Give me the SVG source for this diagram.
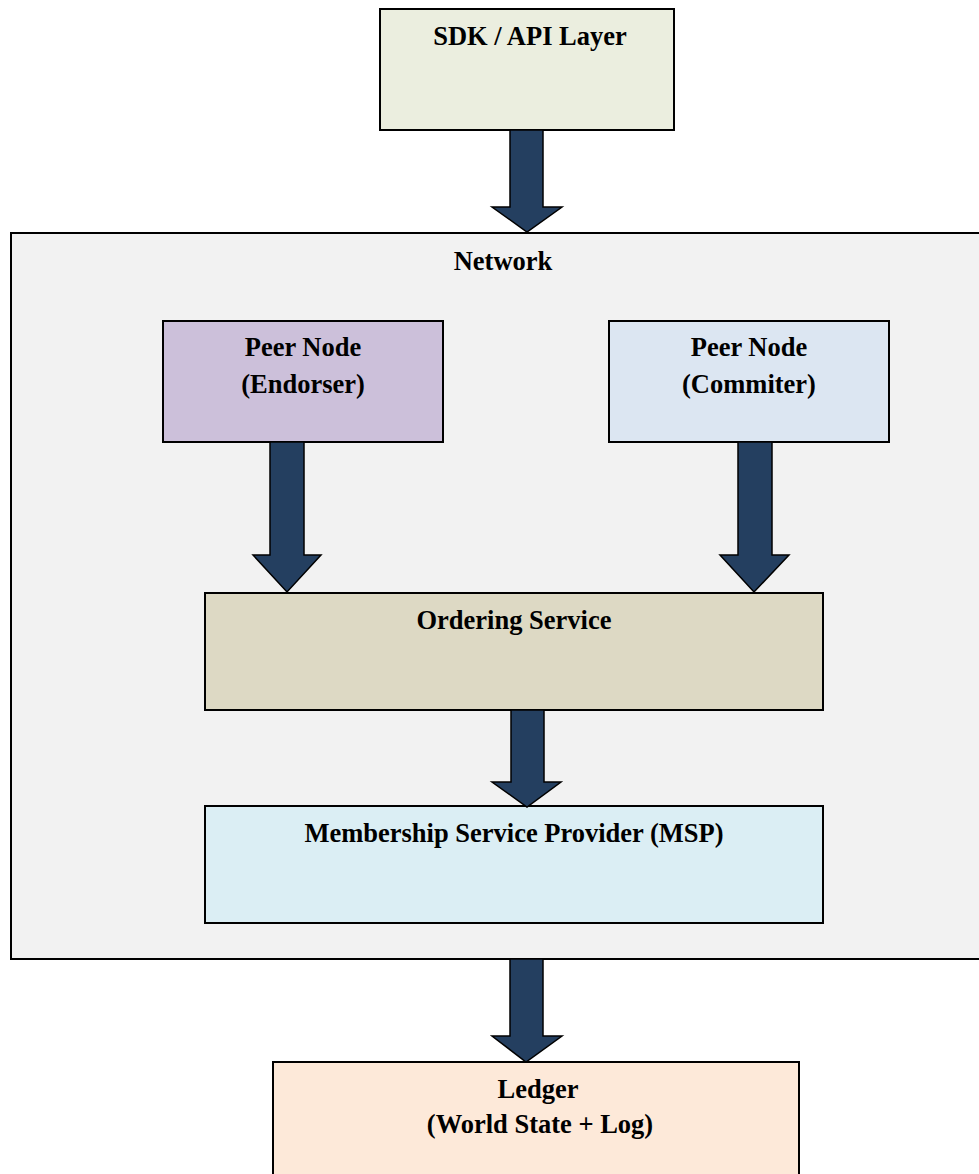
<svg xmlns="http://www.w3.org/2000/svg" width="979" height="1174" viewBox="0 0 979 1174">
  <style>
    .box { stroke: #000; stroke-width: 2; }
    .lbl { font-family: "Liberation Serif", "Times New Roman", serif; font-weight: bold; font-size: 26.5px; fill: #000; text-anchor: middle; }
    .arrow { fill: #243F60; stroke: #000; stroke-width: 1.5; stroke-linejoin: miter; }
  </style>
  <rect x="0" y="0" width="979" height="1174" fill="#fff"/>

  <!-- Network container -->
  <g id="network">
    <rect class="box" x="11" y="233" width="980" height="726" fill="#F2F2F2"/>
    <text class="lbl" x="503" y="270">Network</text>
  </g>

  <g id="sdk">
    <rect class="box" x="380" y="9" width="294" height="121" fill="#EBEEDF"/>
    <text class="lbl" x="530" y="45">SDK / API Layer</text>
  </g>

  <g id="endorser">
    <rect class="box" x="163" y="321" width="280" height="121" fill="#CCC0DA"/>
    <text class="lbl" x="303" y="356">Peer Node</text>
    <text class="lbl" x="303" y="393">(Endorser)</text>
  </g>

  <g id="commiter">
    <rect class="box" x="609" y="321" width="280" height="121" fill="#DCE6F2"/>
    <text class="lbl" x="749" y="356">Peer Node</text>
    <text class="lbl" x="749" y="393">(Commiter)</text>
  </g>

  <g id="ordering">
    <rect class="box" x="205" y="593" width="618" height="117" fill="#DDD9C4"/>
    <text class="lbl" x="514" y="629">Ordering Service</text>
  </g>

  <g id="msp">
    <rect class="box" x="205" y="806" width="618" height="117" fill="#DBEEF4"/>
    <text class="lbl" x="514" y="842">Membership Service Provider (MSP)</text>
  </g>

  <g id="ledger">
    <rect class="box" x="273" y="1062" width="526" height="130" fill="#FDE9D9"/>
    <text class="lbl" x="538" y="1098">Ledger</text>
    <text class="lbl" x="540" y="1133">(World State + Log)</text>
  </g>

  <!-- Block arrows between layers -->
  <g id="connectors">
    <polygon class="arrow" points="510,130 543,130 543,207 562,207 527,232 492,207 510,207"/>
    <polygon class="arrow" points="270,442 304,442 304,555 321,555 287,592 253,555 270,555"/>
    <polygon class="arrow" points="738,442 772,442 772,555 789,555 754,592 720,555 738,555"/>
    <polygon class="arrow" points="511,710 544,710 544,782 561,782 527,807 492,782 511,782"/>
    <polygon class="arrow" points="510,959 543,959 543,1036 562,1036 526,1062 492,1036 510,1036"/>
  </g>
</svg>
